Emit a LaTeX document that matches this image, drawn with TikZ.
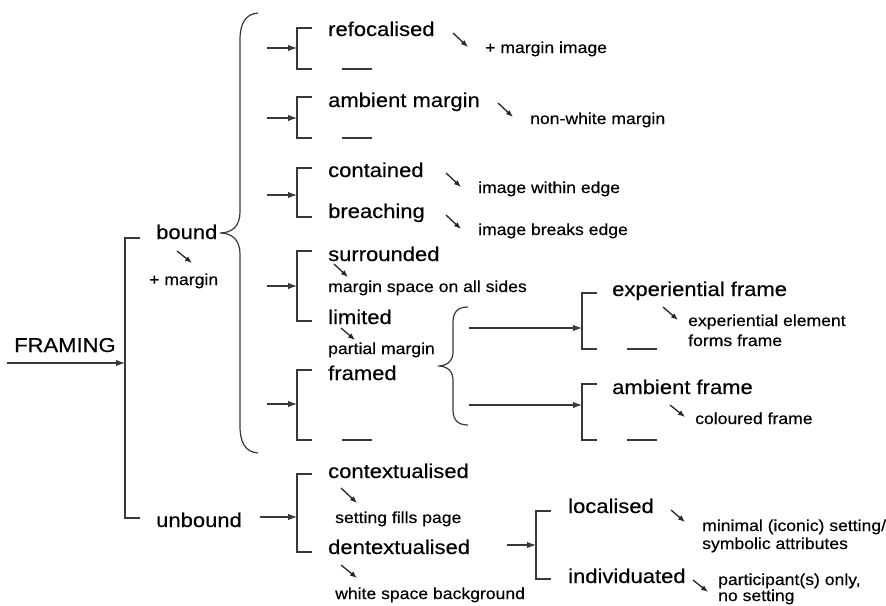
\documentclass[tikz,border=0pt]{standalone}
\usepackage{fontspec}
\setmainfont[FakeStretch=1.1,FakeBold=0.3]{Liberation Sans}
\usetikzlibrary{arrows.meta}
\newcommand\brk[6]{%
  \coordinate (#1-a) at ({#2+15},#3);
  \coordinate (#1-b) at (#2,#3);
  \coordinate (#1-c) at (#2,#4);
  \coordinate (#1-d) at ({#2+15},#4);
  \coordinate (#1-in) at (#2,#5);
  \coordinate (#1-src) at (#6,#5);
  \draw[ln] (#1-a) -- (#1-b) -- (#1-c) -- (#1-d);
  \draw[arr] (#1-src) -- (#1-in);
}
\newcommand\sar[5]{%
  \coordinate (#1-s) at (#2,#3);
  \coordinate (#1-e) at (#4,#5);
  \draw[sarr] (#1-s) -- (#1-e);
}
\newcommand\blank[4]{%
  \coordinate (#1-s) at (#2,#4);
  \coordinate (#1-e) at (#3,#4);
  \draw[ln] (#1-s) -- (#1-e);
}
\begin{document}
\begin{tikzpicture}[x=1pt,y=-1pt,
  lab/.style={font=\fontsize{20}{22}\selectfont, inner sep=0pt, anchor=base west},
  note/.style={font=\fontsize{16}{18}\selectfont, inner sep=0pt, anchor=base west},
  ln/.style={line width=1.2pt, draw=black!78},
  arr/.style={ln, -{Latex[length=9pt,width=6.5pt]}},
  sarr/.style={line width=1.3pt, draw=black!85, -{Latex[length=7pt,width=5.5pt]}}]
\fill[white] (0,0) rectangle (886,605);
\useasboundingbox (0,0) rectangle (886,605);

% brackets
\brk{B0}{125}{238}{518}{363}{7}
\brk{R1}{297}{28}{69}{48}{267}
\brk{R2}{297}{97}{138}{118}{267}
\brk{R3}{297}{168}{217}{195}{267}
\brk{R4}{297}{251}{321}{286}{267}
\brk{R5}{297}{370}{440}{404}{267}
\brk{E1}{582}{293}{349}{328}{469}
\brk{E2}{582}{384}{440}{405}{469}
\brk{U}{297}{474}{552}{517}{260}
\brk{L}{536}{511}{579}{545}{507}

% braces
\draw[ln] (258,13) .. controls (245,14) and (240,24) .. (240,40) -- (240,212)
  .. controls (240,226) and (232,233) .. (220,233)
  .. controls (232,233) and (240,240) .. (240,254) -- (240,426)
  .. controls (240,442) and (245,452) .. (258,453);
\draw[ln] (468,307) .. controls (458,307) and (453,312) .. (453,322) -- (453,352)
  .. controls (453,361) and (447,366) .. (438,366)
  .. controls (447,366) and (453,371) .. (453,380) -- (453,410)
  .. controls (453,420) and (458,425) .. (468,425);

% blanks
\blank{k1}{342}{372}{69}
\blank{k2}{342}{372}{138}
\blank{k3}{342}{372}{440}
\blank{k4}{627}{657}{349}
\blank{k5}{627}{657}{440}

% small arrows
\sar{s0}{177}{251}{192}{263}
\sar{s1}{453}{33}{468}{47}
\sar{s2}{498}{103}{513}{117}
\sar{s3}{446}{173}{461}{187}
\sar{s4}{446}{215}{461}{229}
\sar{s5}{334}{264}{348}{277}
\sar{s6}{341}{328}{355}{340}
\sar{s7}{663}{307}{678}{320}
\sar{s8}{670}{405}{685}{417}
\sar{s9}{341}{488}{357}{503}
\sar{s10}{341}{565}{357}{578}
\sar{s11}{671}{510}{685}{522}
\sar{s12}{693}{580}{708}{592}

% main labels
\node[lab] (framing) at (14,352) {FRAMING};
\node[lab] (bound) at (156,239) {bound};
\node[lab] (refoc) at (328,36) {refocalised};
\node[lab] (ambm) at (328,107) {ambient margin};
\node[lab] (cont) at (328,177) {contained};
\node[lab] (breach) at (328,218) {breaching};
\node[lab] (surr) at (328,261) {surrounded};
\node[lab] (limit) at (328,324) {limited};
\node[lab] (framed) at (328,380) {framed};
\node[lab] (expf) at (612,296) {experiential frame};
\node[lab] (ambf) at (612,394) {ambient frame};
\node[lab] (unbound) at (156,527) {unbound};
\node[lab] (context) at (328,478) {contextualised};
\node[lab] (dentext) at (328,554) {dentextualised};
\node[lab] (local) at (568,513) {localised};
\node[lab] (indiv) at (568,583) {individuated};

% notes
\node[note] (n0) at (149,285) {+ margin};
\node[note] (n1) at (485,53) {+ margin image};
\node[note] (n2) at (530,124) {non-white margin};
\node[note] (n3) at (478,193) {image within edge};
\node[note] (n4) at (478,235) {image breaks edge};
\node[note] (n5) at (328,292) {margin space on all sides};
\node[note] (n6) at (328,354) {partial margin};
\node[note] (n7) at (688,326) {experiential element};
\node[note] (n7b) at (688,346) {forms frame};
\node[note] (n8) at (695,424) {coloured frame};
\node[note] (n9) at (335,523) {setting fills page};
\node[note] (n10) at (335,599) {white space background};
\node[note] (n11) at (702,531) {minimal (iconic) setting/};
\node[note] (n11b) at (702,549) {symbolic attributes};
\node[note] (n12) at (718,585) {participant(s) only,};
\node[note] (n12b) at (718,601) {no setting};
\end{tikzpicture}
\end{document}
